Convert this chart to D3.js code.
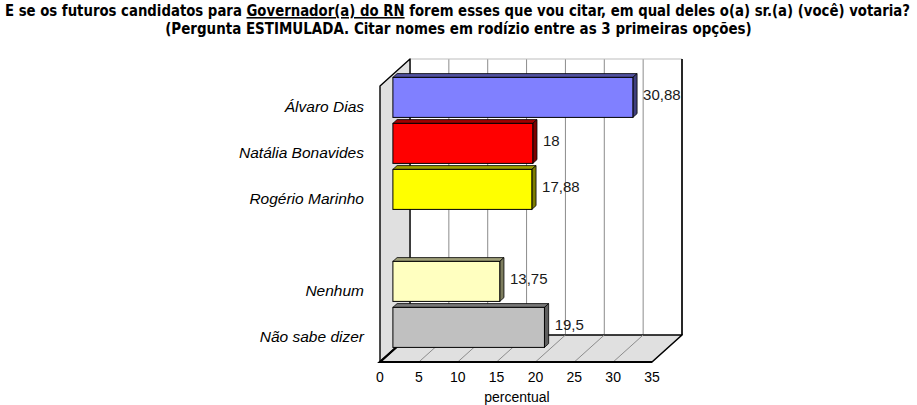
<!DOCTYPE html>
<html>
<head>
<meta charset="utf-8">
<script src="https://cdn.jsdelivr.net/npm/d3@7"></script>
<style>
  body { margin: 0; background: #fff; }
  svg { display: block; }
  text { font-family: "Liberation Sans", Arial, sans-serif; }
</style>
</head>
<body>
<svg id="chart" width="917" height="405"></svg>
<script>
// values
const categories = ["Álvaro Dias", "Natália Bonavides", "Rogério Marinho", "", "Nenhum", "Não sabe dizer"];
const values = [30.88, 18, 17.88, null, 13.75, 19.5];
const valueLabels = ["30,88", "18", "17,88", "", "13,75", "19,5"];
const barColors = ["#8080ff", "#ff0000", "#ffff00", null, "#ffffc0", "#c0c0c0"];
const ticks = [0, 5, 10, 15, 20, 25, 30, 35];

const titleLine1 = ["E se os futuros candidatos para ", "Governador(a) do RN",
                    " forem esses que vou citar, em qual deles o(a) sr.(a) (você) votaria?"];
const titleLine2 = "(Pergunta ESTIMULADA. Citar nomes em rodízio entre as 3 primeiras opções)";

// 3d depth offset of the back wall
const DX = 30, DY = 27;
const barD0 = 0.43, barD1 = 0.57;

const svg = d3.select("#chart");

const x = d3.scaleLinear().domain([0, 35]).range([380, 652]);
const y = d3.scaleBand().domain(d3.range(categories.length))
    .range([86, 362]).paddingInner(0.13).paddingOuter(0.065);

const yTop = 86, yBottom = 362;
const P = (px, py, d) => [px + DX * d, py - DY * d];
const poly = pts => pts.map(p => p.join(",")).join(" ");

// ---- walls ----
const g = svg.append("g");

// back wall
g.append("polygon")
  .attr("points", poly([P(x(0), yTop, 1), P(x(35), yTop, 1), P(x(35), yBottom, 1), P(x(0), yBottom, 1)]))
  .attr("fill", "#fff");

// back wall gridlines
g.append("g").selectAll("line")
  .data(ticks)
  .enter()
  .append("line")
  .attr("x1", d => P(x(d), yTop, 1)[0])
  .attr("x2", d => P(x(d), yTop, 1)[0])
  .attr("y1", P(0, yTop, 1)[1])
  .attr("y2", P(0, yBottom, 1)[1])
  .attr("stroke", "#8c8c8c")
  .attr("stroke-width", 1);

g.append("line")
  .attr("x1", P(x(0), yTop, 1)[0]).attr("y1", P(0, yTop, 1)[1])
  .attr("x2", P(x(35), yTop, 1)[0]).attr("y2", P(0, yTop, 1)[1])
  .attr("stroke", "#bdbdbd");

g.append("line")
  .attr("x1", P(x(35), yTop, 1)[0]).attr("y1", P(0, yTop, 1)[1])
  .attr("x2", P(x(35), yTop, 1)[0]).attr("y2", P(0, yBottom, 1)[1])
  .attr("stroke", "#000").attr("stroke-width", 1.6);

// left wall
g.append("polygon")
  .attr("points", poly([P(x(0), yTop, 0), P(x(0), yTop, 1), P(x(0), yBottom, 1), P(x(0), yBottom, 0)]))
  .attr("fill", "#e0e0e0")
  .attr("stroke", "#000")
  .attr("stroke-width", 1.4)
  .attr("stroke-linejoin", "round");

// floor
g.append("polygon")
  .attr("points", poly([P(x(0), yBottom, 0), P(x(35), yBottom, 0), P(x(35), yBottom, 1), P(x(0), yBottom, 1)]))
  .attr("fill", "#e0e0e0")
  .attr("stroke", "#000")
  .attr("stroke-width", 1.6)
  .attr("stroke-linejoin", "round");

// floor gridlines
g.append("g").selectAll("line")
  .data(ticks.slice(1, -1))
  .enter()
  .append("line")
  .attr("x1", d => P(x(d), yBottom, 0)[0])
  .attr("y1", d => P(x(d), yBottom, 0)[1])
  .attr("x2", d => P(x(d), yBottom, 1)[0])
  .attr("y2", d => P(x(d), yBottom, 1)[1])
  .attr("stroke", "#8c8c8c");

// thick front edges
g.append("polyline")
  .attr("points", poly([P(x(0), yBottom, 1), P(x(0), yBottom, 0), P(x(35), yBottom, 0)]))
  .attr("fill", "none").attr("stroke", "#000").attr("stroke-width", 2.2);

// ---- bars ----
const bars = svg.append("g").selectAll("g")
  .data(d3.range(categories.length).filter(i => values[i] != null))
  .enter()
  .append("g");

const shade = (c, k) => d3.rgb(c).darker(k).formatHex();

// top face
bars.append("polygon")
  .attr("points", i => poly([
      P(x(0), y(i), barD0), P(x(values[i]), y(i), barD0),
      P(x(values[i]), y(i), barD1), P(x(0), y(i), barD1)]))
  .attr("fill", i => shade(barColors[i], 1.3))
  .attr("stroke", "#000").attr("stroke-width", 0.8).attr("stroke-linejoin", "round");

// side face
bars.append("polygon")
  .attr("points", i => poly([
      P(x(values[i]), y(i), barD0), P(x(values[i]), y(i), barD1),
      P(x(values[i]), y(i) + y.bandwidth(), barD1), P(x(values[i]), y(i) + y.bandwidth(), barD0)]))
  .attr("fill", i => shade(barColors[i], 2.0))
  .attr("stroke", "#000").attr("stroke-width", 0.8).attr("stroke-linejoin", "round");

// front face
bars.append("rect")
  .attr("x", i => P(x(0), 0, barD0)[0])
  .attr("y", i => P(0, y(i), barD0)[1])
  .attr("width", i => x(values[i]) - x(0))
  .attr("height", y.bandwidth())
  .attr("fill", i => barColors[i])
  .attr("stroke", "#000").attr("stroke-width", 1);

// value labels
bars.append("text")
  .attr("x", i => P(x(values[i]), 0, barD1)[0] + 6)
  .attr("y", i => P(0, y(i) + y.bandwidth() / 2, barD0)[1] - 3)
  .attr("dy", ".35em")
  .attr("font-size", 15)
  .attr("fill", "#1a1a1a")
  .text(i => valueLabels[i]);

// ---- category labels ----
svg.append("g").selectAll("text")
  .data(d3.range(categories.length))
  .enter()
  .append("text")
  .attr("x", 364)
  .attr("y", i => y(i) + y.bandwidth() / 2 - 2)
  .attr("dy", ".35em")
  .attr("text-anchor", "end")
  .attr("font-size", 15.5)
  .attr("font-style", "italic")
  .attr("fill", "#000")
  .text(i => categories[i]);

// ---- x axis ----
svg.append("g").selectAll("text")
  .data(ticks)
  .enter()
  .append("text")
  .attr("x", d => x(d))
  .attr("y", 382)
  .attr("text-anchor", "middle")
  .attr("font-size", 14)
  .attr("fill", "#000")
  .text(d => d);

svg.append("text")
  .attr("x", 517)
  .attr("y", 402)
  .attr("text-anchor", "middle")
  .attr("font-size", 14)
  .attr("fill", "#000")
  .text("percentual");

// ---- title ----
// condensed bold face; font size chosen so each line spans the width it
// has in the picture, then stretched in height to the picture's cap height
const titleFont = "'DejaVu Sans Condensed', 'Liberation Sans Narrow', sans-serif";

function fitTitle(gSel, width, glyphHeight) {
  const t = gSel.select("text");
  const len = t.node().getComputedTextLength();
  const fs = 14 * width / len;
  t.attr("font-size", fs);
  const base = gSel.attr("data-base");
  gSel.attr("transform", `translate(0,${base}) scale(1,${glyphHeight / fs})`);
}

const g1 = svg.append("g").attr("data-base", 16);
const t1 = g1.append("text")
  .attr("x", 5).attr("y", 0)
  .attr("font-size", 14)
  .attr("font-weight", "bold")
  .style("font-family", titleFont);
t1.selectAll("tspan")
  .data(titleLine1)
  .enter()
  .append("tspan")
  .attr("text-decoration", (d, i) => i === 1 ? "underline" : null)
  .text(d => d);
fitTitle(g1, 906, 15.5);

const g2 = svg.append("g").attr("data-base", 34);
g2.append("text")
  .attr("x", 458.5).attr("y", 0)
  .attr("text-anchor", "middle")
  .attr("font-size", 14)
  .attr("font-weight", "bold")
  .style("font-family", titleFont)
  .text(titleLine2);
fitTitle(g2, 587, 15.5);
</script>
</body>
</html>
